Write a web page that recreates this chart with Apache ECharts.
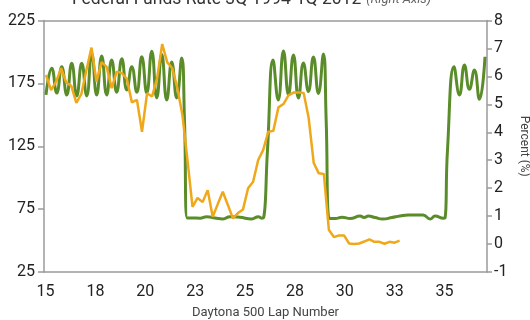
<!DOCTYPE html>
<html><head><meta charset="utf-8">
<script src="https://cdn.jsdelivr.net/npm/echarts@6/dist/echarts.min.js"></script>
<style>html,body{margin:0;padding:0;background:#fff}#c{width:530px;height:320px}</style>
</head><body><div id="c"></div>
<script>
// X axis (Daytona 500 lap number)
const lapTicks = [15, 17.5, 20, 22.5, 25, 27.5, 30, 32.5, 35];
const lapTickLabels = ['15', '18', '20', '23', '25', '28', '30', '33', '35'];
// Left axis ticks, right axis ticks
const leftTicks = [25, 75, 125, 175, 225];
const rightTicks = [-1, 0, 1, 2, 3, 4, 5, 6, 7, 8];

// Green series: lap number / value (left axis)
const greenLaps = [15.10, 15.39, 15.64, 15.89, 16.14, 16.39, 16.64, 16.89, 17.14, 17.39, 17.64, 17.89, 18.14, 18.39, 18.64, 18.90, 19.15, 19.40, 19.65, 19.90, 20.15, 20.40, 20.65, 20.90, 21.15, 21.40, 21.65, 21.90,
  22.04, 22.18, 22.42, 22.82, 23.16, 23.57, 23.97, 24.32, 24.82, 25.41, 25.74, 25.91, 26.00,
  26.20, 26.48, 26.74, 27.00, 27.25, 27.50, 27.75, 28.00, 28.25, 28.50, 28.75, 29.00,
  29.14, 29.29, 29.59, 29.94, 30.34, 30.84, 31.04, 31.26, 31.59, 31.98, 32.44, 32.84, 33.25, 34.00, 34.35, 34.60, 35.02, 35.10,
  35.22, 35.55, 35.82, 36.07, 36.32, 36.57, 36.82, 37.10];
const greenValues = [165.8, 187, 167.3, 188.3, 165.8, 191, 165, 191, 165, 199, 165.8, 196.8, 165.8, 193.6, 168, 194.5, 169.7, 188.3, 168, 196.2, 167.3, 200.5, 163.4, 198, 161.8, 192, 163.4, 195.2,
  145.8, 67.9, 68, 67.8, 69, 68, 67.2, 69, 68.5, 67.2, 69, 67.8, 68,
  122, 193.6, 161.8, 200.7, 166, 197.6, 163.4, 191.2, 168.5, 196, 167, 198.4,
  145.8, 67.7, 67.5, 68.5, 67.5, 69.5, 68.3, 69.5, 68.3, 67.1, 68.3, 69.5, 70.3, 70.3, 67.1, 69.5, 67.8, 68,
  122, 188.3, 165.8, 189.6, 170.3, 185.6, 162.3, 196.2];

// Federal Funds Rate, quarterly 3Q 1994 - 1Q 2012 (right axis, %)
const quarters = ['3Q94','4Q94','1Q95','2Q95','3Q95','4Q95','1Q96','2Q96','3Q96','4Q96','1Q97','2Q97','3Q97','4Q97',
  '1Q98','2Q98','3Q98','4Q98','1Q99','2Q99','3Q99','4Q99','1Q00','2Q00','3Q00','4Q00','1Q01','2Q01','3Q01','4Q01',
  '1Q02','2Q02','3Q02','4Q02','1Q03','2Q03','3Q03','4Q03','1Q04','2Q04','3Q04','4Q04','1Q05','2Q05','3Q05','4Q05',
  '1Q06','2Q06','3Q06','4Q06','1Q07','2Q07','3Q07','4Q07','1Q08','2Q08','3Q08','4Q08','1Q09','2Q09','3Q09','4Q09',
  '1Q10','2Q10','3Q10','4Q10','1Q11','2Q11','3Q11','4Q11','1Q12'];
const fedFunds = [6.05, 5.51, 5.81, 6.29, 5.78, 5.66, 5.05, 5.37, 6.23, 7.03, 5.81, 6.51, 6.34, 5.58, 6.17, 6.12, 5.91, 5.07, 5.16, 4.02,
  5.39, 5.28, 5.94, 7.16, 6.50, 6.29, 5.58, 4.62, 3.01, 1.33, 1.65, 1.50, 1.93, 0.98, 1.43, 1.87, 1.40, 0.92, 1.11, 1.24,
  2.00, 2.23, 3.01, 3.37, 4.02, 4.05, 4.89, 5.01, 5.32, 5.42, 5.42, 5.41, 4.51, 2.90, 2.53, 2.51, 0.50, 0.25, 0.31, 0.31,
  0.02, 0.00, 0.02, 0.09, 0.17, 0.08, 0.08, 0.01, 0.08, 0.05, 0.12];

const FONT = 'Roboto, "Liberation Sans", sans-serif';
const AXIS_GRAY = '#9a9a9a';

const chart = echarts.init(document.getElementById('c'), null, {renderer: 'canvas'});
chart.setOption({
  animation: false,
  backgroundColor: '#fff',
  title: {
    left: 67, top: -14,
    text: '{a|Federal Funds Rate 3Q 1994-1Q 2012} {b|(Right Axis)}',
    textStyle: {
      fontWeight: 'normal',
      rich: {
        a: {fontFamily: FONT, fontSize: 17.5, fontWeight: 'normal', color: '#333'},
        b: {fontFamily: FONT, fontSize: 13, fontStyle: 'italic', fontWeight: 'normal', color: '#666'}
      }
    }
  },
  grid: {left: 44, right: 43, top: 20.5, bottom: 48, containLabel: false, outerBoundsMode: 'none'},
  xAxis: [{
    type: 'value', min: 15, max: 37.2, position: 'bottom',
    name: 'Daytona 500 Lap Number', nameLocation: 'middle', nameGap: 34,
    nameTextStyle: {fontFamily: FONT, fontSize: 13, color: '#444'},
    axisLine: {show: true, onZero: false, lineStyle: {color: AXIS_GRAY, width: 1.5}},
    axisTick: {show: false},
    splitLine: {show: false},
    axisLabel: {
      customValues: lapTicks, margin: 12, fontFamily: FONT, fontSize: 16, color: '#222',
      padding: [0, 0, 0, 3],
      formatter: v => lapTickLabels[lapTicks.indexOf(v)] ?? ''
    }
  }, {
    type: 'value', min: -0.4, max: 87.3, position: 'top',
    axisLine: {show: true, onZero: false, lineStyle: {color: AXIS_GRAY, width: 1.5}},
    axisTick: {show: false}, axisLabel: {show: false}, splitLine: {show: false}
  }],
  yAxis: [{
    type: 'value', min: 25, max: 225, interval: 50, position: 'left',
    axisLine: {show: true, onZero: false, lineStyle: {color: AXIS_GRAY, width: 1.5}},
    axisTick: {show: true, length: 6, lineStyle: {color: AXIS_GRAY, width: 1.5}},
    splitLine: {show: false},
    axisLabel: {margin: 9, fontFamily: FONT, fontSize: 16, color: '#222',
      formatter: v => leftTicks.includes(v) ? String(v) : ''}
  }, {
    type: 'value', min: -1, max: 8, interval: 1, position: 'right',
    name: 'Percent (%)', nameLocation: 'middle', nameGap: 30, nameRotate: -90,
    nameTextStyle: {fontFamily: FONT, fontSize: 12, color: '#444', padding: [0, 0, 0, 0]},
    axisLine: {show: true, onZero: false, lineStyle: {color: AXIS_GRAY, width: 1.5}},
    axisTick: {show: true, length: 5, lineStyle: {color: AXIS_GRAY, width: 1.5}},
    splitLine: {show: false},
    axisLabel: {margin: 7, fontFamily: FONT, fontSize: 16, color: '#222',
      formatter: v => rightTicks.includes(v) ? String(v) : ''}
  }],
  series: [{
    name: 'Lap', type: 'line', xAxisIndex: 0, yAxisIndex: 0,
    data: greenLaps.map((x, i) => [x, greenValues[i]]),
    smooth: 0.5, showSymbol: false, symbol: 'none',
    lineStyle: {color: '#5b8c2a', width: 3}, z: 2
  }, {
    name: 'Federal Funds Rate', type: 'line', xAxisIndex: 1, yAxisIndex: 1,
    data: fedFunds.map((v, i) => [i, v]),
    showSymbol: false, symbol: 'none',
    lineStyle: {color: '#f0a81b', width: 2.5}, z: 3
  }]
});
</script>
</body></html>
